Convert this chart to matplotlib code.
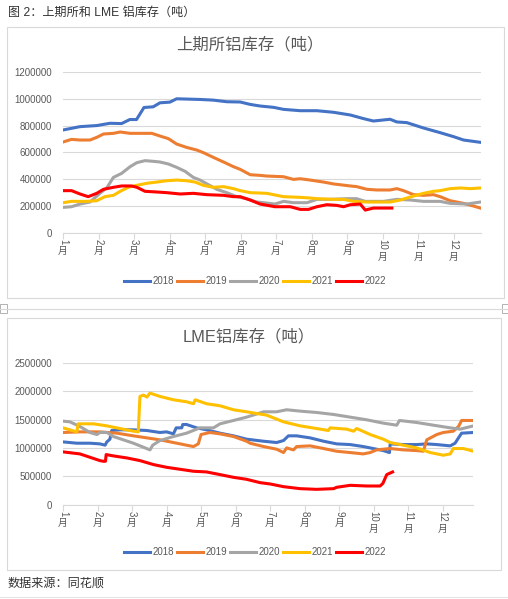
import matplotlib
matplotlib.use("Agg")
from matplotlib import pyplot as plt
from matplotlib.lines import Line2D
from matplotlib.patches import Rectangle

plt.rcParams['font.family'] = ['Liberation Sans', 'Noto Sans CJK SC', 'DejaVu Sans']

W, H = 508, 599

years = ["2018", "2019", "2020", "2021", "2022"]
colors = ["#4472C4", "#ED7D31", "#A5A5A5", "#FFC000", "#FF0000"]
month_ticks = list(range(12))

# SHFE aluminium stocks, x in months since Jan 1, values in thousand tonnes
shfe_2018_m = [0, 0.48, 0.95, 1.32, 1.65, 1.88, 2.07, 2.28, 2.54, 2.73, 3.01, 3.2, 3.86, 4.23, 4.61, 4.99, 5.27,
               5.55, 5.93, 6.21, 6.68, 7.15, 7.62, 8.09, 8.46, 8.74, 9.21, 9.4, 9.68, 10.15, 10.62, 11.0, 11.28, 11.75]
shfe_2018_v = [767, 792, 800, 817, 815, 845, 845, 935, 940, 970, 975, 1000, 995, 990, 978, 976, 958,
               946, 936, 921, 911, 911, 899, 879, 852, 834, 847, 827, 822, 782, 747, 717, 692, 675]
shfe_2019_m = [0, 0.24, 0.48, 0.76, 0.95, 1.14, 1.42, 1.61, 1.89, 2.17, 2.5, 2.73, 2.97, 3.2, 3.48, 3.77, 3.95,
               4.23, 4.52, 4.8, 4.99, 5.27, 5.55, 5.74, 6.21, 6.49, 6.68, 6.96, 7.34, 7.62, 8.09, 8.27, 8.56, 8.84,
               9.21, 9.4, 9.59, 9.87, 10.15, 10.43, 10.62, 10.9, 11.28, 11.56, 11.75]
shfe_2019_v = [677, 697, 692, 692, 712, 737, 742, 752, 742, 742, 742, 722, 702, 662, 637, 617, 598,
               563, 528, 493, 473, 433, 428, 423, 418, 398, 403, 393, 378, 364, 349, 344, 324, 319,
               319, 329, 314, 284, 279, 284, 269, 239, 219, 199, 184]
shfe_2020_m = [0, 0.24, 0.48, 0.76, 1.04, 1.23, 1.42, 1.65, 1.89, 2.08, 2.31, 2.54, 2.73, 2.97, 3.2, 3.44, 3.67,
               3.86, 4.09, 4.33, 4.61, 4.89, 5.17, 5.46, 5.65, 5.97, 6.21, 6.49, 6.87, 7.15, 7.52, 7.99, 8.27, 8.51,
               9.03, 9.4, 9.78, 10.15, 10.62, 10.9, 11.37, 11.75]
shfe_2020_v = [189, 194, 214, 229, 294, 334, 413, 443, 493, 523, 538, 533, 528, 513, 488, 458, 413,
               393, 359, 324, 299, 269, 254, 229, 224, 214, 234, 224, 224, 249, 249, 254, 254, 234,
               234, 249, 244, 234, 234, 219, 214, 229]
shfe_2021_m = [0, 0.24, 0.67, 0.95, 1.18, 1.42, 1.61, 1.84, 2.08, 2.36, 2.64, 2.92, 3.2, 3.48, 3.72, 3.95, 4.23,
               4.52, 4.8, 4.99, 5.27, 5.74, 6.21, 6.68, 6.96, 7.15, 7.62, 7.9, 8.18, 8.56, 9.21, 9.5, 9.87, 10.15,
               10.43, 10.62, 10.9, 11.19, 11.47, 11.75]
shfe_2021_v = [224, 234, 234, 239, 269, 279, 309, 339, 354, 369, 378, 388, 393, 388, 378, 354, 339,
               344, 329, 314, 299, 294, 269, 264, 259, 254, 249, 249, 234, 229, 229, 244, 274, 294,
               309, 314, 329, 334, 329, 334]
shfe_2022_m = [0, 0.24, 0.48, 0.71, 0.95, 1.14, 1.42, 1.65, 1.93, 2.08, 2.31, 2.64, 2.92, 3.3, 3.67, 4.05, 4.52,
               4.8, 4.99, 5.27, 5.55, 5.97, 6.4, 6.68, 6.91, 7.15, 7.43, 7.71, 7.9, 8.09, 8.37, 8.51, 8.74, 9.03, 9.26]
shfe_2022_v = [314, 314, 289, 269, 294, 324, 339, 349, 349, 339, 309, 304, 299, 289, 294, 284, 279,
               269, 269, 244, 214, 194, 194, 174, 174, 194, 209, 204, 194, 209, 214, 169, 184, 184, 184]

# LME aluminium stocks, x in months since Jan 1, values in thousand tonnes
lme_2018_m = [0, 0.4, 0.78, 1.07, 1.22, 1.27, 1.36, 1.41, 1.65, 2.04, 2.43, 2.81, 3.0, 3.2, 3.28, 3.44, 3.47,
              3.58, 3.87, 4.16, 4.55, 4.94, 5.32, 5.81, 6.19, 6.39, 6.53, 6.77, 7.16, 7.55, 7.93, 8.32, 8.7,
              8.99, 9.28, 9.46, 9.48, 9.86, 10.25, 10.54, 10.83, 11.22, 11.36, 11.46, 11.55, 11.89]
lme_2018_v = [1108, 1085, 1085, 1073, 1050, 1108, 1156, 1309, 1321, 1321, 1309, 1274, 1285, 1250, 1356, 1356, 1415,
              1415, 1356, 1321, 1262, 1215, 1156, 1120, 1097, 1132, 1215, 1215, 1179, 1120, 1073, 1061, 1026,
              991, 955, 920, 1073, 1061, 1061, 1073, 1061, 1038, 1085, 1179, 1262, 1274]
lme_2019_m = [0, 0.49, 1.07, 1.56, 2.04, 2.43, 2.81, 3.2, 3.58, 3.78, 3.92, 4.0, 4.26, 4.55, 4.94, 5.32, 5.42,
              5.81, 6.19, 6.39, 6.48, 6.68, 6.77, 7.16, 7.55, 7.93, 8.32, 8.7, 8.9, 9.09, 9.48, 9.86, 10.25,
              10.44, 10.54, 10.83, 11.02, 11.31, 11.46, 11.55, 11.89]
lme_2019_v = [1274, 1285, 1285, 1262, 1215, 1179, 1144, 1097, 1050, 1026, 1073, 1238, 1274, 1250, 1203, 1120, 1085,
              1026, 979, 920, 1002, 967, 1026, 1038, 991, 943, 920, 896, 920, 967, 991, 967, 955,
              943, 1144, 1238, 1274, 1297, 1380, 1486, 1486]
lme_2020_m = [0, 0.2, 0.49, 0.78, 0.98, 1.07, 1.27, 1.46, 1.75, 2.04, 2.33, 2.52, 2.6, 2.81, 3.2, 3.58, 3.97,
              4.36, 4.55, 4.94, 5.32, 5.57, 5.81, 6.19, 6.48, 6.87, 7.35, 7.84, 8.32, 8.8, 9.28, 9.67, 9.75,
              10.25, 10.73, 11.22, 11.51, 11.89]
lme_2020_v = [1474, 1462, 1380, 1274, 1238, 1274, 1274, 1203, 1144, 1085, 1014, 967, 1050, 1132, 1203, 1262, 1356,
              1356, 1427, 1486, 1545, 1592, 1639, 1639, 1675, 1651, 1627, 1592, 1545, 1498, 1439, 1403, 1486,
              1450, 1403, 1356, 1333, 1391]
lme_2021_m = [0, 0.4, 0.44, 0.88, 1.27, 1.65, 2.04, 2.18, 2.23, 2.33, 2.43, 2.52, 2.81, 3.2, 3.58, 3.78, 3.83,
              4.16, 4.55, 4.94, 5.32, 5.9, 6.39, 6.87, 7.35, 7.69, 7.74, 8.22, 8.42, 8.51, 8.9, 9.28, 9.48,
              9.86, 10.25, 10.64, 11.02, 11.22, 11.31, 11.6, 11.89]
lme_2021_v = [1356, 1285, 1427, 1427, 1391, 1344, 1297, 1285, 1910, 1934, 1899, 1969, 1910, 1851, 1816, 1781, 1851,
              1781, 1745, 1675, 1639, 1580, 1462, 1391, 1344, 1309, 1356, 1333, 1297, 1344, 1238, 1156, 1097,
              1050, 1002, 920, 873, 896, 991, 991, 943]
lme_2022_m = [0, 0.49, 0.78, 1.07, 1.17, 1.23, 1.25, 1.46, 1.85, 2.23, 2.62, 3.0, 3.39, 3.78, 4.16, 4.55, 4.94,
              5.32, 5.71, 6.0, 6.39, 6.87, 7.35, 7.84, 7.93, 8.32, 8.8, 9.19, 9.27, 9.38, 9.55]
lme_2022_v = [932, 896, 837, 778, 766, 766, 884, 861, 825, 778, 708, 660, 625, 590, 578, 531, 483,
              448, 389, 366, 318, 283, 271, 283, 307, 342, 330, 330, 377, 531, 578]

shfe_series = [(shfe_2018_m, shfe_2018_v), (shfe_2019_m, shfe_2019_v), (shfe_2020_m, shfe_2020_v),
               (shfe_2021_m, shfe_2021_v), (shfe_2022_m, shfe_2022_v)]
lme_series = [(lme_2018_m, lme_2018_v), (lme_2019_m, lme_2019_v), (lme_2020_m, lme_2020_v),
              (lme_2021_m, lme_2021_v), (lme_2022_m, lme_2022_v)]

GRID = "#d9d9d9"
TEXT = "#595959"


def px_box(left, top, right, bottom):
    # pixel box (from top-left) -> figure fraction rect
    return [left / W, 1 - bottom / H, (right - left) / W, (bottom - top) / H]


def fy(y):
    return 1 - y / H


def draw_panel(ax, series, xmax, ymax, ystep):
    for (m, v), c in zip(series, colors):
        ax.plot(m, [x * 1000 for x in v], color=c, lw=2.2, solid_joinstyle="round")
    ax.set_xlim(0, xmax)
    ax.set_ylim(0, ymax)
    ax.set_yticks(range(0, ymax + 1, ystep))
    ax.set_yticklabels([str(t) for t in range(0, ymax + 1, ystep)])
    ax.grid(axis="y", color=GRID, lw=0.8)
    ax.set_axisbelow(True)
    for s in ["top", "right", "left"]:
        ax.spines[s].set_visible(False)
    ax.spines["bottom"].set_color(GRID)
    ax.spines["bottom"].set_linewidth(0.8)
    ax.tick_params(axis="y", length=0, labelsize=7, labelcolor=TEXT, pad=8)
    ax.set_xticks(month_ticks)
    ax.set_xticklabels([])
    ax.tick_params(axis="x", length=4, color=GRID, width=0.8)
    # excel-style stacked month labels: number turned, 月 upright
    for i in month_ticks:
        num = str(i + 1)
        ax.annotate(num, xy=(i, 0), xycoords=("data", "axes fraction"), xytext=(0, -6),
                    textcoords="offset pixels", rotation=270, ha="center", va="top",
                    fontsize=7, color=TEXT)
        ax.annotate("月", xy=(i, 0), xycoords=("data", "axes fraction"),
                    xytext=(0, -8 - 5.5 * len(num)), textcoords="offset pixels",
                    ha="center", va="top", fontsize=7, color=TEXT)


fig = plt.figure(figsize=(W / 100, H / 100), dpi=100)

# frames around the two charts and the page separator
fig.add_artist(Rectangle((7 / W, fy(298)), 497 / W, 271 / H, transform=fig.transFigure,
                         fill=False, ec=GRID, lw=0.8))
fig.add_artist(Rectangle((7 / W, fy(570)), 494 / W, 252 / H, transform=fig.transFigure,
                         fill=False, ec=GRID, lw=0.8))
fig.add_artist(Line2D([0, 1], [fy(309), fy(309)], transform=fig.transFigure, color=GRID, lw=0.8))
fig.add_artist(Line2D([0, 1], [fy(597), fy(597)], transform=fig.transFigure, color="#e6e6e6", lw=0.8))
fig.add_artist(Rectangle((0, fy(313)), 7 / W, 9 / H, transform=fig.transFigure,
                         fill=False, ec="#a6a6a6", lw=0.6))
fig.add_artist(Rectangle((502 / W, fy(313)), 6 / W, 9 / H, transform=fig.transFigure,
                         fill=False, ec="#a6a6a6", lw=0.6))

ax1 = fig.add_axes(px_box(63, 72, 481, 232.7))
draw_panel(ax1, shfe_series, 11.77, 1200000, 200000)

ax2 = fig.add_axes(px_box(63, 363, 473, 504.7))
draw_panel(ax2, lme_series, 11.88, 2500000, 500000)

fig.text(8 / W, fy(13), "图 2：上期所和 LME 铝库存（吨）", fontsize=8.7, va="center", color="#333333")
fig.text(250 / W, fy(45), "上期所铝库存（吨）", fontsize=11.8, ha="center", va="center", color=TEXT)
fig.text(249 / W, fy(337), "LME铝库存（吨）", fontsize=11.8, ha="center", va="center", color=TEXT)
fig.text(8 / W, fy(584), "数据来源：同花顺", fontsize=8.7, va="center", color="#333333")

handles = [Line2D([], [], color=c, lw=2.2) for c in colors]
for ycen in (281, 552):
    fig.legend(handles, years, loc="center", bbox_to_anchor=(255 / W, fy(ycen)), ncol=5,
               frameon=False, fontsize=7, handlelength=2.7, handletextpad=0.25,
               columnspacing=0.3, labelcolor=TEXT)

fig.savefig("out.png", dpi=100)
